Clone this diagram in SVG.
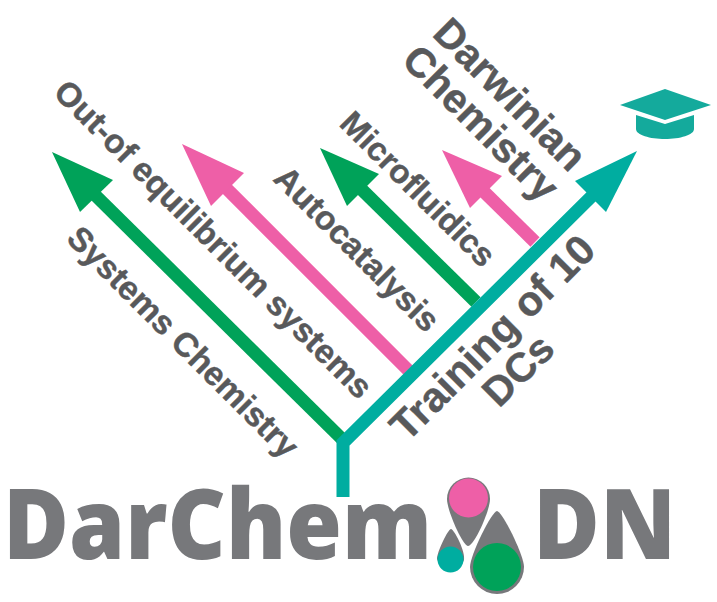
<svg xmlns="http://www.w3.org/2000/svg" width="717" height="602" viewBox="0 0 717 602">
<style>
.l{font-family:"Liberation Sans",Arial,sans-serif;font-weight:700;fill:#58595b;stroke:#58595b;stroke-width:.4}
.b{font-family:"Open Sans","Liberation Sans",sans-serif;font-weight:800;fill:#77787b}
.s{fill:none;stroke-width:13}
</style>
<rect width="717" height="602" fill="#fff"/>
<g id="connectors">
<path class="s" stroke="#00a259" d="M343 440L92 192"/>
<polygon fill="#00a259" points="52,152 113,180 80,212"/>
<path class="s" stroke="#ee5fa7" d="M408 370L215 177"/>
<polygon fill="#ee5fa7" points="182,144 244,173 211,206"/>
<path class="s" stroke="#00a259" d="M476 302L350 178"/>
<polygon fill="#00a259" points="320,148 379,174 347,206"/>
<path class="s" stroke="#ee5fa7" d="M535 242L470 178"/>
<polygon fill="#ee5fa7" points="442,150 502,176 470,208"/>
<path class="s" stroke="#00ada0" d="M343 497V443L600 188"/>
<polygon fill="#00ada0" points="637,151 606,212 575,181"/>
</g>
<g id="labels">
<text class="l" font-size="33.500" transform="translate(65 240) rotate(45)">Systems Chemistry</text>
<text class="l" font-size="33.500" transform="translate(52 94) rotate(45)">Out-of equilibrium systems</text>
<text class="l" font-size="33.500" transform="translate(272 180) rotate(45)">Autocatalysis</text>
<text class="l" font-size="33" transform="translate(338 125) rotate(45)">Microfluidics</text>
<text class="l" font-size="41" transform="translate(431 35) rotate(45)">Darwinian</text>
<text class="l" font-size="41" transform="translate(400 62) rotate(45)">Chemistry</text>
<text class="l" font-size="41.500" transform="translate(407 443) rotate(-45)">Training of 10</text>
<text class="l" font-size="41" transform="translate(499 409) rotate(-45)">DCs</text>
</g>
<g id="logo">
<text class="b" font-size="98" x="3" y="559" textLength="429" lengthAdjust="spacingAndGlyphs">DarChem</text>
<text class="b" font-size="98" x="533" y="559" textLength="143" lengthAdjust="spacingAndGlyphs">DN</text>
<path fill="#77787b" d="M447 496a21.500 21.500 0 1 1 43 0C490 508 474 543 468 543C463 543 447 508 447 496Z" transform="translate(0 3)"/>
<circle cx="468.500" cy="498" r="19.500" fill="#ee5fa7"/>
<path fill="#77787b" d="M451 529C454 529 466 552 464 560A14 14 0 0 1 437 559C437 552 448 529 451 529Z"/>
<circle cx="450.500" cy="559.500" r="13" fill="#00ada0"/>
<path fill="#77787b" d="M497 511C502 511 524 555 524 567A27 27 0 0 1 470 567C470 555 492 511 497 511Z"/>
<circle cx="497" cy="567" r="24" fill="#00a259"/>
</g>
<g id="cap" fill="#14aa9c">
<polygon points="665,89 711,105 665,120 620,105"/>
<path d="M636 115L665 124L694 115V129C694 135 680 139 665 139C650 139 636 135 636 129Z"/>
</g>
</svg>
